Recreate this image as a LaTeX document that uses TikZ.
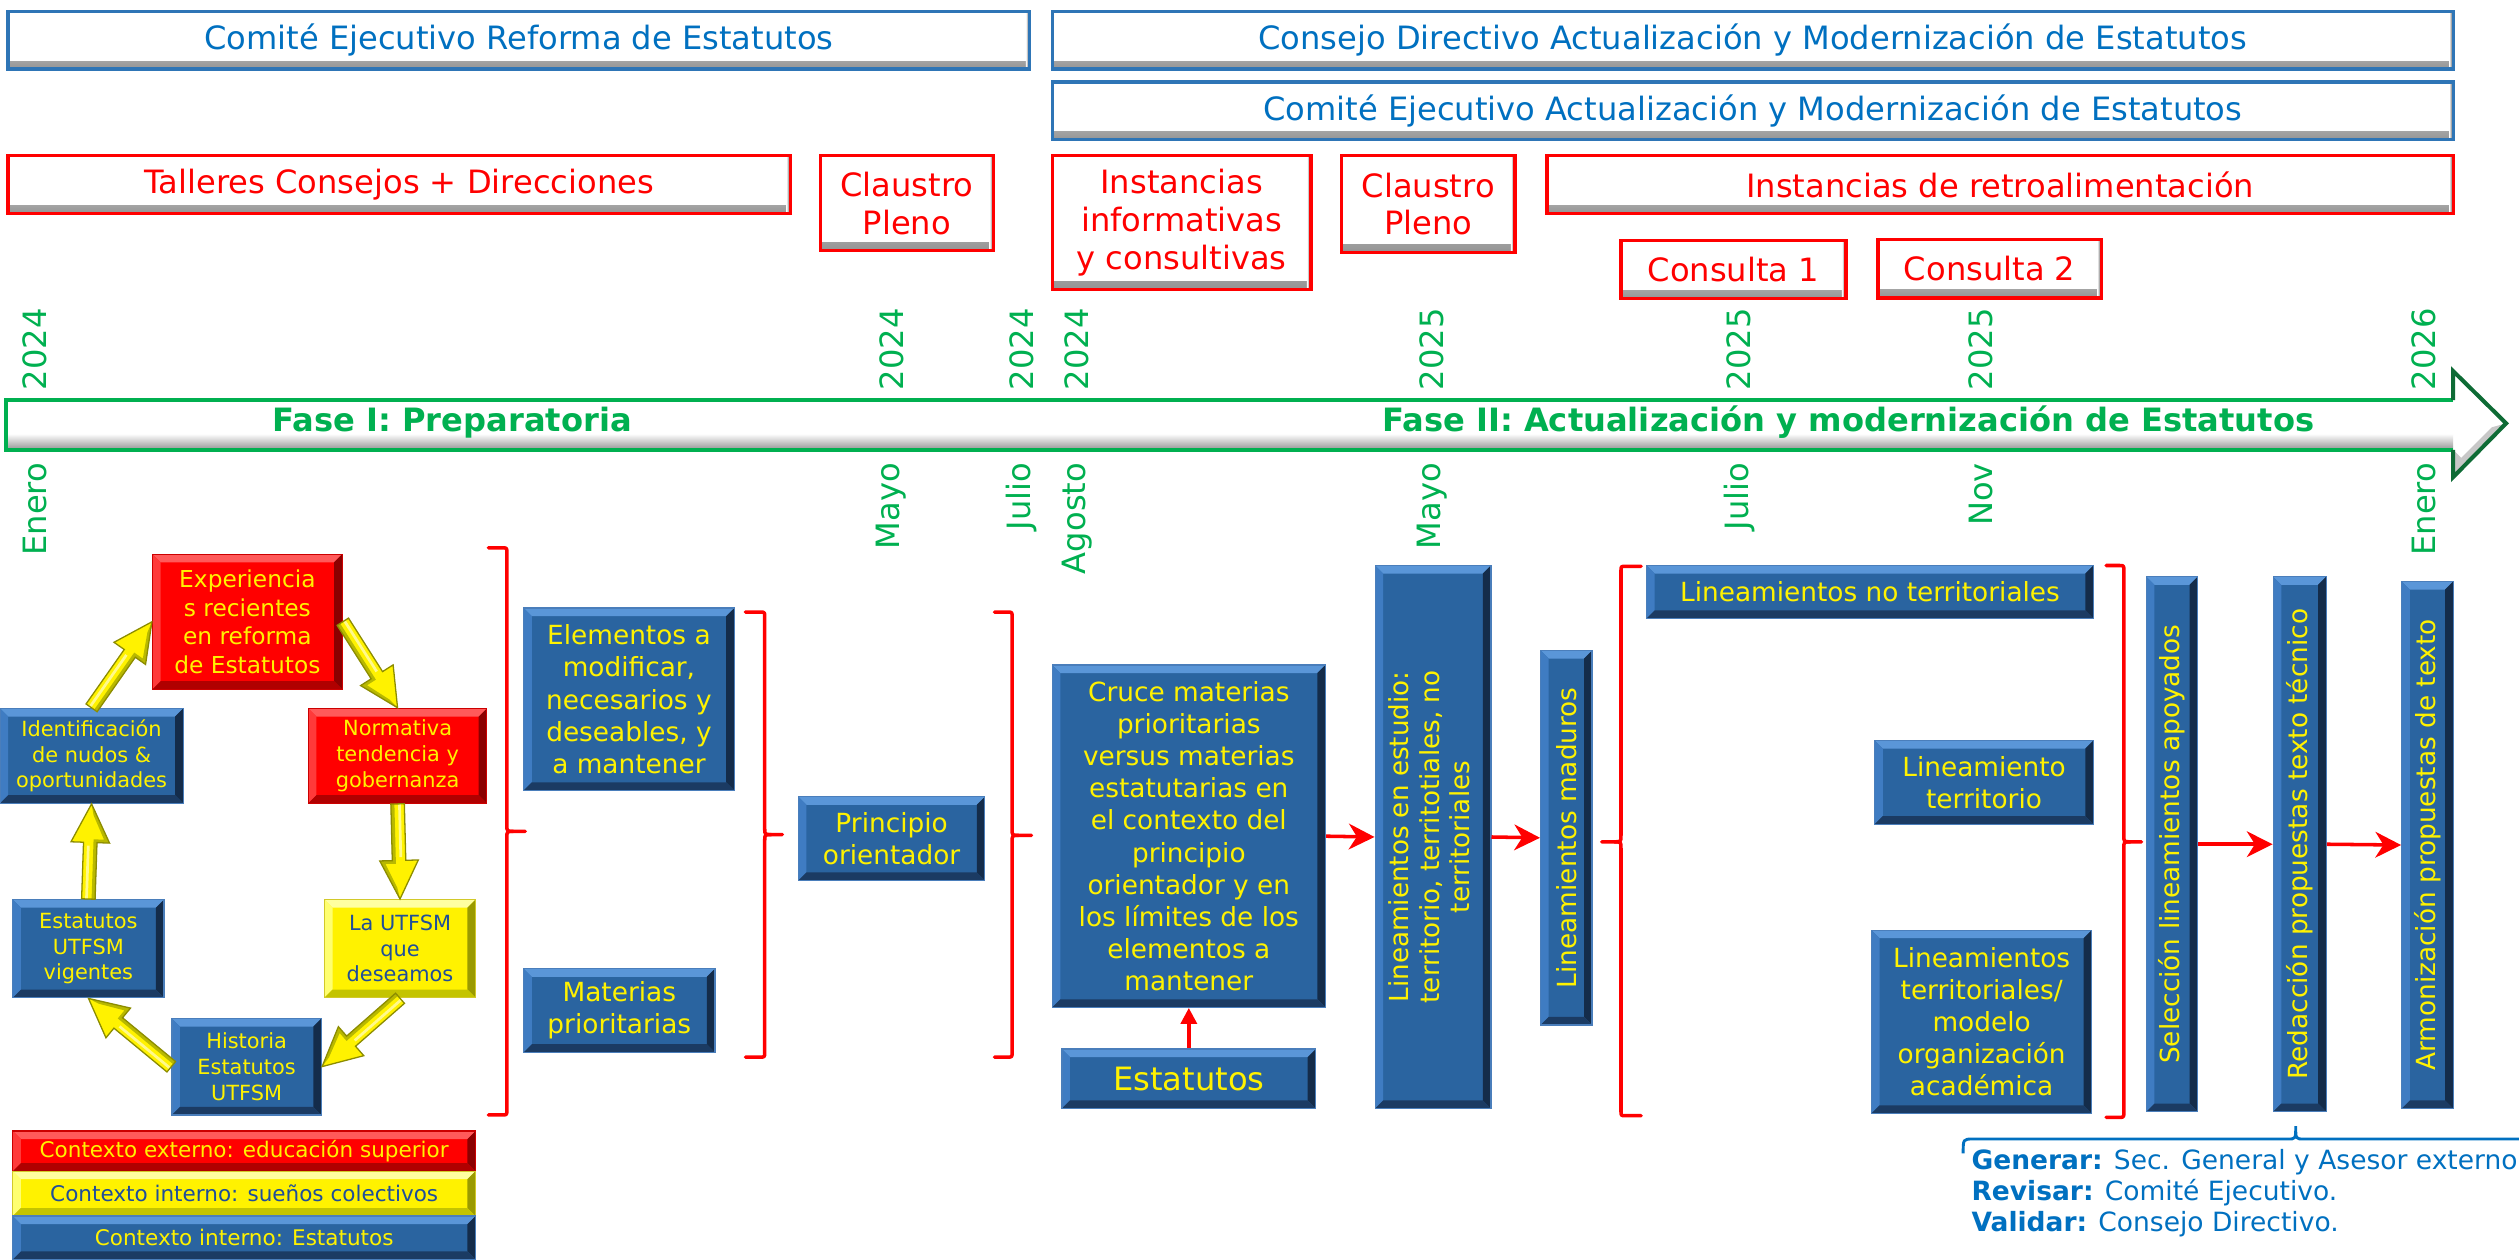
\documentclass[tikz,border=0pt]{standalone}
\usepackage{fontspec}
\setmainfont{DejaVu Sans}
\usetikzlibrary{arrows.meta,calc}
\definecolor{hblue}{HTML}{2E75B6}
\definecolor{tblue}{HTML}{0070C0}
\definecolor{bfill}{HTML}{2A64A0}
\definecolor{btop}{HTML}{5A96D8}
\definecolor{bleft}{HTML}{3F7CC2}
\definecolor{bright}{HTML}{142C4A}
\definecolor{bbot}{HTML}{1B3B63}
\definecolor{bborder}{HTML}{4A7EBB}
\definecolor{gline}{HTML}{00B050}
\definecolor{gdark}{HTML}{0E6B35}
\definecolor{rtop}{HTML}{FF5A5A}
\definecolor{rleft}{HTML}{FF3A3A}
\definecolor{rright}{HTML}{8A0000}
\definecolor{rbot}{HTML}{B00000}
\definecolor{ytop}{HTML}{FFFFA0}
\definecolor{yleft}{HTML}{FFFF70}
\definecolor{yright}{HTML}{9A9A00}
\definecolor{ybot}{HTML}{C4C400}
\definecolor{ytext}{HTML}{1F4E9A}
\definecolor{yedge}{HTML}{8C8C00}
\definecolor{yshade}{HTML}{B8B800}

\newcommand\bevw{5pt}
\newcommand\bevpic[4]{%
 \fill[#1] (path picture bounding box.north west) -- (path picture bounding box.north east) -- ([shift={(-\bevw,-\bevw)}]path picture bounding box.north east) -- ([shift={(\bevw,-\bevw)}]path picture bounding box.north west) -- cycle;
 \fill[#2] (path picture bounding box.north west) -- ([shift={(\bevw,-\bevw)}]path picture bounding box.north west) -- ([shift={(\bevw,\bevw)}]path picture bounding box.south west) -- (path picture bounding box.south west) -- cycle;
 \fill[#3] (path picture bounding box.north east) -- (path picture bounding box.south east) -- ([shift={(-\bevw,\bevw)}]path picture bounding box.south east) -- ([shift={(-\bevw,-\bevw)}]path picture bounding box.north east) -- cycle;
 \fill[#4] (path picture bounding box.south west) -- (path picture bounding box.south east) -- ([shift={(-\bevw,\bevw)}]path picture bounding box.south east) -- ([shift={(\bevw,\bevw)}]path picture bounding box.south west) -- cycle;
}

\newcommand\yarrow[2]{%
  \path let \p1=(#1), \p2=(#2) in \pgfextra{%
    \pgfmathsetmacro\yatmp{atan2(\y2-\y1,\x2-\x1)}\xdef\yaA{\yatmp}%
    \pgfmathsetmacro\yatmp{veclen(\x2-\x1,\y2-\y1)}\xdef\yaL{\yatmp}%
    \pgfmathsetmacro\yatmp{\x1}\xdef\yaX{\yatmp}%
    \pgfmathsetmacro\yatmp{\y1}\xdef\yaY{\yatmp}};
  \begin{scope}[shift={(\yaX pt,\yaY pt)}, rotate=\yaA]
  \fill[yarr] (0pt,4.2pt) -- (\yaL pt-24pt,4.2pt) -- (\yaL pt-24pt,12pt) -- (\yaL pt,0pt) -- (\yaL pt-24pt,-12pt) -- (\yaL pt-24pt,-4.2pt) -- (0pt,-4.2pt) -- cycle;
  \fill[yshade] (0pt,-4.2pt) -- (\yaL pt-24pt,-4.2pt) -- (\yaL pt-24pt,-12pt) -- (\yaL pt,0pt) -- (\yaL pt-7pt,-1.5pt) -- (\yaL pt-22pt,-8.5pt) -- (\yaL pt-22pt,-2pt) -- (0pt,-2pt) -- cycle;
  \fill[yellow!45!white] (0pt,0.3pt) rectangle (\yaL pt-26pt,2pt);
  \draw[yedge, line width=0.8pt, line join=miter] (0pt,4.2pt) -- (\yaL pt-24pt,4.2pt) -- (\yaL pt-24pt,12pt) -- (\yaL pt,0pt) -- (\yaL pt-24pt,-12pt) -- (\yaL pt-24pt,-4.2pt) -- (0pt,-4.2pt) -- cycle;
  \end{scope}
}

\newcommand\bracR[6]{%
 \draw[bracestyle] (#1,#4) -- (#2-3,#4) .. controls (#2,#4) .. (#2,#4+3) -- (#2,#5-4) .. controls (#2,#5) .. (#2+4,#5) -- (#3,#5);
 \draw[bracestyle] (#1,#6) -- (#2-3,#6) .. controls (#2,#6) .. (#2,#6-3) -- (#2,#5+4) .. controls (#2,#5) .. (#2+4,#5);
}
\newcommand\bracL[6]{%
 \draw[bracestyle] (#1,#4) -- (#2+3,#4) .. controls (#2,#4) .. (#2,#4+3) -- (#2,#5-4) .. controls (#2,#5) .. (#2-4,#5) -- (#3,#5);
 \draw[bracestyle] (#1,#6) -- (#2+3,#6) .. controls (#2,#6) .. (#2,#6-3) -- (#2,#5+4) .. controls (#2,#5) .. (#2-4,#5);
}

\tikzset{
 wh/.style 2 args={minimum width=#1, minimum height=#2},
 hdr/.style={fill=white, line width=2pt, align=center, inner sep=0pt, font=\fontsize{20}{23.5}\selectfont,
   path picture={\shade[top color=white, bottom color=black!42] ([yshift=5pt]path picture bounding box.south west) rectangle (path picture bounding box.south east);
     \shade[left color=white, right color=black!75] ([xshift=-2.5pt]path picture bounding box.north east) rectangle (path picture bounding box.south east);}},
 hdrB/.style={hdr, draw=hblue, text=tblue},
 hdrR/.style={hdr, draw=red, text=red},
 bbox/.style={fill=bfill, draw=bborder, line width=0.8pt, text=yellow, align=center, inner sep=0pt, font=\fontsize{16.4}{20}\selectfont, path picture={\bevpic{btop}{bleft}{bright}{bbot}}},
 rbox/.style={bbox, fill=red, draw=red!80!black, path picture={\bevpic{rtop}{rleft}{rright}{rbot}}},
 ybox/.style={bbox, fill=yellow, draw=yellow!80!black, text=ytext, path picture={\bevpic{ytop}{yleft}{yright}{ybot}}},
 cyc/.style={font=\fontsize{13}{16}\selectfont},
 leg/.style={font=\fontsize{13.4}{15}\selectfont},
 date/.style={rotate=90, text=gline, inner sep=0pt, font=\fontsize{20}{24}\selectfont},
 fase/.style={text=gline, inner sep=0pt, font={\fontsize{20}{24}\selectfont\bfseries}},
 redarr/.style={draw=red, line width=2.2pt, -{Stealth[length=16pt,width=16pt,inset=5pt]}},
 bracestyle/.style={draw=red, line width=2.2pt, line join=round, line cap=round},
 yarr/.style={fill=yellow},
}

\begin{document}
\begin{tikzpicture}[x=1pt, y=-1pt]
\useasboundingbox (0,0) rectangle (1568,784);

% ---------- header boxes ----------
\node[hdrB, wh={636pt}{36pt}] (ceref) at (323,25) {Comité Ejecutivo Reforma de Estatutos};
\node[hdrB, wh={872pt}{36pt}] (cdact) at (1091,25) {Consejo Directivo Actualización y Modernización de Estatutos};
\node[hdrB, wh={872pt}{36pt}] (ceact) at (1091,69) {Comité Ejecutivo Actualización y Modernización de Estatutos};
\node[hdrR, wh={487pt}{36pt}] (talleres) at (248.5,115) {Talleres Consejos + Direcciones};
\node[hdrR, wh={108pt}{59pt}] (claus1) at (564.5,126.5) {Claustro\\Pleno};
\node[hdrR, wh={161pt}{83pt}] (inst) at (735.5,138.5) {Instancias\\informativas\\y consultivas};
\node[hdrR, wh={108pt}{60pt}] (claus2) at (889,127) {Claustro\\Pleno};
\node[hdrR, wh={564pt}{36pt}] (retro) at (1245,115) {Instancias de retroalimentación};
\node[hdrR, wh={140pt}{36.5pt}] (cons1) at (1079,167.75) {Consulta 1};
\node[hdrR, wh={139pt}{36.5pt}] (cons2) at (1238.5,167.25) {Consulta 2};

% ---------- timeline ----------
\fill[white] (3.5,249) -- (1527,249) -- (1527,231) -- (1560,263.5) -- (1527,297) -- (1527,280) -- (3.5,280) -- cycle;
\shade[top color=white, bottom color=black!42] (3.5,270) rectangle (1527,280);
\fill[black!22] (1527,280) -- (1527,297) -- (1560,263.5) -- (1551,266) -- (1532,285) -- cycle;
\draw[gline, line width=2.5pt] (1527,249) -- (3.5,249) -- (3.5,280) -- (1527,280);
\draw[gdark, line width=2.5pt, line join=miter] (1527,249) -- (1527,231) -- (1560,263.5) -- (1527,297) -- (1527,280);
\node[fase] (fase1) at (281.5,263) {Fase I: Preparatoria};
\node[fase] (fase2) at (1150.5,263) {Fase II: Actualización y modernización de Estatutos};

\foreach \xx/\yr/\mo/\k in {21.5/2024/Enero/a, 555/2024/Mayo/b, 636/2024/Julio/c, 670.5/2024/Agosto/d, 891.5/2025/Mayo/e, 1082.5/2025/Julio/f, 1233/2025/Nov/g, 1509/2026/Enero/h}{
  \node[date, anchor=west] (yr\k) at (\xx,243) {\yr};
  \node[date, anchor=east] (mo\k) at (\xx,288) {\mo};
}

% ---------- cycle ----------
\node[rbox, font=\fontsize{14.5}{17.7}\selectfont, wh={118pt}{84pt}] (exp) at (154,387) {Experiencia\\s recientes\\en reforma\\de Estatutos};
\node[rbox, cyc, wh={111pt}{59pt}] (norm) at (247.5,470.5) {Normativa\\tendencia y\\gobernanza};
\node[ybox, cyc, wh={94pt}{61pt}] (utfsm) at (249,590.5) {La UTFSM\\que\\deseamos};
\node[bbox, cyc, wh={93pt}{60pt}] (hist) at (153.5,664) {Historia\\Estatutos\\UTFSM};
\node[bbox, cyc, wh={94pt}{61pt}] (vig) at (55,590.5) {Estatutos\\UTFSM\\vigentes};
\node[bbox, cyc, wh={114pt}{59pt}] (iden) at (57,470.5) {Identificación\\de nudos \&\\oportunidades};

\yarrow{iden.north}{exp.west}
\yarrow{exp.east}{norm.north}
\yarrow{norm.south}{utfsm.north}
\yarrow{utfsm.south}{hist.east}
\yarrow{hist.west}{vig.south}
\yarrow{vig.north}{iden.south}

% ---------- legend ----------
\node[rbox, leg, wh={288pt}{25pt}] (leg1) at (152,716.5) {Contexto externo: educación superior};
\node[ybox, leg, wh={288pt}{28pt}] (leg2) at (152,743) {Contexto interno: sueños colectivos};
\node[bbox, leg, wh={288pt}{27pt}] (leg3) at (152,770.5) {Contexto interno: Estatutos};

% ---------- middle ----------
\node[bbox, wh={131pt}{113.5pt}] (elem) at (391.5,435.25) {Elementos a\\modificar,\\necesarios y\\deseables, y\\a mantener};
\node[bbox, wh={119pt}{52pt}] (mat) at (385.5,629) {Materias\\prioritarias};
\node[bbox, wh={116pt}{52pt}] (princ) at (555,522) {Principio\\orientador};
\node[bbox, wh={170pt}{213pt}] (cruce) at (740,520.5) {Cruce materias\\prioritarias\\versus materias\\estatutarias en\\el contexto del\\principio\\orientador y en\\los límites de los\\elementos a\\mantener};
\node[bbox, font=\fontsize{20}{24}\selectfont, wh={158pt}{37pt}] (estat) at (740,671.5) {Estatutos};
\node[bbox, font=\fontsize{16.3}{19}\selectfont, wh={72pt}{338pt}] (linest) at (892,521) {\rotatebox{90}{\begin{tabular}{@{}c@{}}Lineamientos en estudio:\\territorio, territotiales, no\\territoriales\end{tabular}}};
\node[bbox, wh={32pt}{233pt}] (madur) at (975,521.5) {\rotatebox{90}{Lineamientos maduros}};
\node[bbox, wh={278pt}{33pt}] (linno) at (1164,368.5) {Lineamientos no territoriales};
\node[bbox, wh={136pt}{52pt}] (linter) at (1235,487) {Lineamiento\\territorio};
\node[bbox, wh={137pt}{114pt}] (linterr) at (1233.5,636) {Lineamientos\\territoriales/\\modelo\\organización\\académica};
\node[bbox, wh={32pt}{333pt}] (selec) at (1352,525.5) {\rotatebox{90}{Selección lineamientos apoyados}};
\node[bbox, wh={33pt}{333pt}] (redac) at (1431.5,525.5) {\rotatebox{90}{Redacción propuestas texto técnico}};
\node[bbox, wh={32pt}{328pt}] (armon) at (1511,526) {\rotatebox{90}{Armonización propuestas de texto}};

% ---------- braces ----------
\bracR{304}{315.5}{327}{341}{517.5}{694}
\bracR{464}{476}{487}{381}{519.5}{658}
\bracR{619}{630}{642}{381}{520}{658}
\bracL{1021.5}{1009}{997}{352.5}{524}{694.5}
\bracR{1311}{1322}{1333}{352}{524}{695.5}

% ---------- red arrows ----------
\draw[red, line width=2.2pt, -{Triangle[length=10pt,width=10pt]}] (estat.north) -- (cruce.south);
\draw[redarr] (cruce.east) -- (linest.west);
\draw[redarr] (linest.east) -- (madur.west);
\draw[redarr] (selec.east) -- (redac.west);
\draw[redarr] (redac.east) -- (armon.west);

% ---------- roles ----------
\draw[tblue, line width=1.8pt] (1222,718) .. controls (1222,709) .. (1228,709) -- (1424,709) .. controls (1429,709) .. (1429,701) .. controls (1429,709) .. (1434,709) -- (1570,709);
\node[anchor=north west, align=left, inner sep=0pt, text=tblue, font=\fontsize{16.5}{19.5}\selectfont] (roles) at (1227,715) {\textbf{Generar:} Sec. General y Asesor externo\\\textbf{Revisar:} Comité Ejecutivo.\\\textbf{Validar:} Consejo Directivo.};
\end{tikzpicture}
\end{document}
